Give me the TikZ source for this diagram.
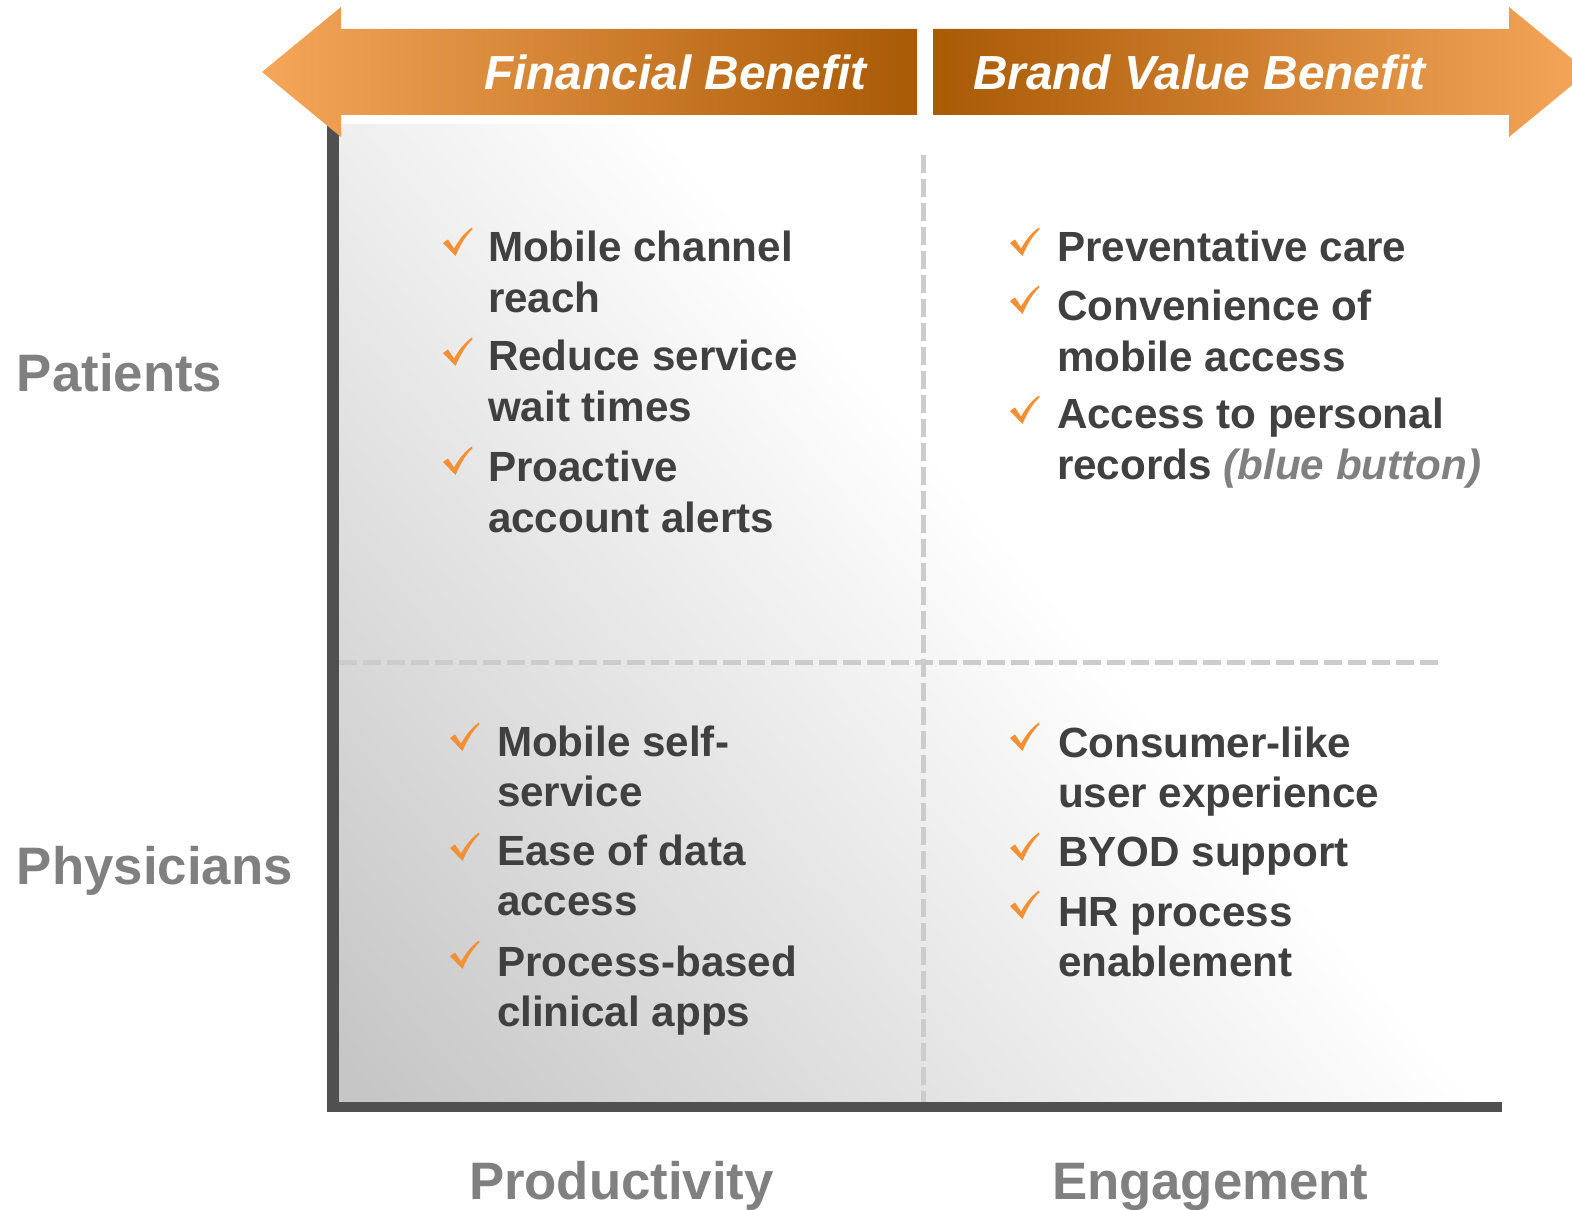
\documentclass[tikz,border=0pt]{standalone}
\usepackage{fontspec}
\setmainfont{Liberation Sans}
\usetikzlibrary{shadings}
\definecolor{txt}{HTML}{404040}
\definecolor{lbl}{HTML}{808080}
\definecolor{orL}{HTML}{F6A65A}
\definecolor{orD}{HTML}{A95A05}
\definecolor{chk}{HTML}{F39034}
\definecolor{axisc}{HTML}{505050}
\definecolor{dashc}{HTML}{CCCCCC}
\definecolor{bgg}{HTML}{C6C6C6}
\pgfdeclarehorizontalshading{quadbg}{100bp}{color(0bp)=(bgg); color(16bp)=(bgg); color(56bp)=(white); color(100bp)=(white)}
\tikzset{
  item/.style={anchor=base west, align=left, inner sep=0pt, outer sep=0pt, text=txt,
    font=\fontsize{12}{14.5}\selectfont\bfseries},
  lab/.style={anchor=base west, inner sep=0pt, outer sep=0pt, text=lbl,
    font=\fontsize{15}{18}\selectfont\bfseries},
  head/.style={anchor=base west, inner sep=0pt, outer sep=0pt, text=white,
    font=\fontsize{13.6}{16}\selectfont\bfseries\itshape},
  divider/.style={dashc, line width=0.05cm, dash pattern=on 0.18cm off 0.06cm},
  okmark/.pic={\fill[chk] (-12,-13) -- (-7,-16.5) -- (-1,-7.5) .. controls (4,-16) and (9,-23) .. (17,-28.5) -- (17.5,-26.5) .. controls (10,-20) and (5,-10) .. (0.5,0) -- cycle;}
}
\begin{document}
\begin{tikzpicture}[x=0.01cm,y=-0.01cm]
\useasboundingbox (0,0) rectangle (1572,1210);
\clip (0,0) rectangle (1572,1210);
% quadrant background
\shade[shading=quadbg, shading angle=40] (339,125) rectangle (1470,1102);
% dividers
\coordinate (hL) at (339,663);
\coordinate (hR) at (1443,663);
\coordinate (vT) at (923,155);
\coordinate (vB) at (923,1102);
\draw[divider] (hL) -- (hR);
\draw[divider] (vT) -- (vB);
% axes
\fill[axisc] (327,125) rectangle (339,1112);
\fill[axisc] (327,1102) rectangle (1502,1112);
% top arrows
\shade[left color=orL, right color=orD] (262,72) -- (341,7) -- (341,29) -- (917,29) -- (917,115) -- (341,115) -- (341,137) -- cycle;
\shade[left color=orD, right color=orL] (933,29) -- (1509,29) -- (1509,7) -- (1588,72) -- (1509,137) -- (1509,115) -- (933,115) -- cycle;
\node[head] (fin) at (484,90) {Financial Benefit};
\node[head] (brand) at (973,90) {Brand Value Benefit};
% side and bottom labels
\node[lab] (pat) at (17,392) {Patients};
\node[lab] (phy) at (17,885) {Physicians};
\node[lab] (prod) at (469,1200) {Productivity};
\node[lab] (eng) at (1052,1200) {Engagement};
% top-left (node placed at baseline of its last line)
\pic at (455,256) {okmark};
\node[item] (tl1) at (488,313) {Mobile channel\\reach};
\pic at (455,366) {okmark};
\node[item] (tl2) at (488,422) {Reduce service\\wait times};
\pic at (455,475) {okmark};
\node[item] (tl3) at (488,533) {Proactive\\account alerts};
% top-right
\pic at (1022,256) {okmark};
\node[item] (tr1) at (1057,262) {Preventative care};
\pic at (1022,314) {okmark};
\node[item] (tr2) at (1057,372) {Convenience of\\mobile access};
\pic at (1022,424) {okmark};
\node[item] (tr3) at (1057,480) {Access to personal\\records {\color{lbl}\itshape(blue button)}};
% bottom-left
\pic at (462,751) {okmark};
\node[item] (bl1) at (497,807) {Mobile self-\\service};
\pic at (462,861) {okmark};
\node[item] (bl2) at (497,916) {Ease of data\\access};
\pic at (462,969) {okmark};
\node[item] (bl3) at (497,1027) {Process-based\\clinical apps};
% bottom-right
\pic at (1022,751) {okmark};
\node[item] (br1) at (1058,808) {Consumer-like\\user experience};
\pic at (1022,861) {okmark};
\node[item] (br2) at (1058,867) {BYOD support};
\pic at (1022,919) {okmark};
\node[item] (br3) at (1058,977) {HR process\\enablement};
\end{tikzpicture}
\end{document}
